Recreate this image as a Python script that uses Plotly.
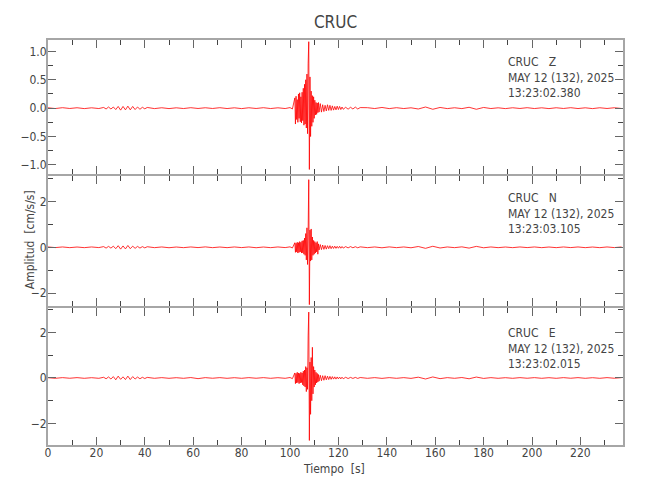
import plotly.graph_objects as go
from plotly.subplots import make_subplots

# ---- sample times [s] ----
t_s = [0, 3, 6, 9, 12, 15, 18, 21,
       23, 24, 25, 26, 27, 28, 29, 30, 31, 32, 33, 34, 35, 36, 37, 38, 39, 40, 41,
       44, 47, 50, 53, 56, 59, 62, 65, 68, 71, 74, 77, 80, 83, 86, 89, 92, 95, 98,
       100, 101,
       102, 102.25, 102.5, 102.75, 103, 103.25, 103.5, 103.75, 104, 104.25, 104.5, 104.75,
       105, 105.25, 105.5, 105.75, 106, 106.25, 106.5, 106.75, 107, 107.25, 107.5, 107.75,
       108, 108.25, 108.5, 108.75, 109, 109.25, 109.5, 109.75, 110, 110.25, 110.5, 110.75,
       111, 111.25, 111.5, 111.75, 112,
       112.5, 113, 113.5, 114, 114.5, 115, 115.5, 116, 116.5, 117, 117.5, 118, 118.5, 119,
       119.5, 120, 120.5, 121, 121.5, 122,
       123, 124, 125, 126, 127, 128, 129,
       132, 135, 138, 141, 144, 147, 150, 153, 156, 159, 162, 165, 168, 171, 174, 177, 180,
       183, 186, 189, 192, 195, 198, 201, 204, 207, 210, 213, 216, 219, 222, 225, 228, 231,
       234, 237]

# ---- Z component [cm/s/s] ----
z_vals = [0.006, -0.007, 0.008, -0.006, 0.007, -0.008, 0.006, -0.007,
          0.012, -0.015, 0.02, -0.015, 0.02, -0.025, 0.03, -0.035, 0.03, -0.03, 0.035, -0.03,
          0.03, -0.025, 0.02, -0.02, 0.015, -0.012, 0.012,
          -0.008, 0.007, -0.008, 0.006, -0.007, 0.008, -0.006, 0.007, -0.006, 0.008, -0.007,
          0.006, -0.008, 0.007, -0.006, 0.008, -0.007, 0.006, -0.007,
          0.01, -0.015,
          0.18, -0.28, 0.21, -0.2, 0.15, -0.25, 0.25, -0.18, 0.27, -0.24, 0.2, -0.26,
          0.28, -0.22, 0.35, -0.3, 0.42, -0.28, 0.5, -0.35, 0.6, -0.45, 0.78, 1.17,
          -1.08, 0.55, -0.5, 0.3, -0.32, 0.22, -0.25, 0.2, -0.18, 0.14, -0.12, 0.1,
          -0.11, 0.09, -0.08, 0.1, -0.07,
          0.08, -0.07, 0.06, -0.06, 0.05, -0.05, 0.06, -0.04, 0.05, -0.04, 0.04, -0.035,
          0.03, -0.03, 0.035, -0.025, 0.03, -0.025, 0.02, -0.02,
          0.015, -0.018, 0.015, -0.015, 0.018, -0.015, 0.01,
          0.008, -0.007, 0.012, -0.008, 0.008, -0.007, 0.006, -0.015, 0.02, -0.02, 0.012,
          -0.008, 0.007, -0.008, 0.015, -0.02, 0.012, -0.007, 0.006, -0.008, 0.007, -0.006,
          0.008, -0.007, 0.006, -0.008, 0.007, -0.006, 0.008, -0.007, 0.006, -0.008, 0.007,
          -0.006, 0.007, -0.006]

# ---- N component [cm/s/s] ----
n_vals = [0.015, -0.012, 0.015, -0.015, 0.012, -0.015, 0.015, -0.012,
          0.03, -0.035, 0.04, -0.035, 0.05, -0.06, 0.07, -0.08, 0.06, -0.07, 0.08, -0.06,
          0.05, -0.045, 0.04, -0.035, 0.03, -0.025, 0.025,
          -0.015, 0.015, -0.018, 0.012, -0.015, 0.015, -0.012, 0.018, -0.015, 0.012, -0.015,
          0.015, -0.012, 0.015, -0.018, 0.012, -0.015, 0.015, -0.012,
          0.02, -0.03,
          0.2, -0.22, 0.18, -0.2, 0.22, -0.25, 0.2, -0.22, 0.25, -0.2, 0.22, -0.25,
          0.28, -0.24, 0.3, -0.3, 0.4, -0.35, 0.6, -0.55, 0.85, -0.75, 0.7, 2.95,
          -2.5, 0.75, -0.6, 0.8, -0.55, 0.45, -0.35, 0.3, -0.3, 0.25, -0.25, 0.2,
          -0.2, 0.25, -0.3, 0.15, -0.12,
          0.12, -0.1, 0.1, -0.09, 0.08, -0.08, 0.07, -0.06, 0.07, -0.06, 0.05, -0.05,
          0.05, -0.045, 0.04, -0.04, 0.045, -0.04, 0.035, -0.035,
          0.03, -0.025, 0.03, -0.02, 0.025, -0.02, 0.02,
          -0.015, 0.015, -0.02, 0.018, -0.015, 0.015, -0.02, 0.035, -0.045, 0.045, -0.03,
          0.015, -0.015, 0.02, -0.035, 0.04, -0.02, 0.015, -0.015, 0.012, -0.015, 0.015,
          -0.012, 0.015, -0.015, 0.012, -0.015, 0.015, -0.012, 0.015, -0.015, 0.012, -0.015,
          0.015, -0.012, 0.015]

# ---- E component [cm/s/s] ----
e_vals = [0.012, -0.015, 0.015, -0.012, 0.015, -0.015, 0.012, -0.015,
          0.03, -0.035, 0.045, -0.045, 0.06, -0.08, 0.08, -0.06, 0.05, -0.07, 0.08, -0.07,
          0.06, -0.045, 0.04, -0.035, 0.03, -0.025, 0.025,
          -0.015, 0.015, -0.015, 0.012, -0.015, 0.018, -0.03, 0.015, -0.012, 0.015, -0.015,
          0.012, -0.015, 0.015, -0.012, 0.015, -0.015, 0.012, -0.015,
          0.02, -0.03,
          0.22, -0.25, 0.2, -0.22, 0.25, -0.2, 0.22, -0.25, 0.2, -0.22, 0.25, -0.2,
          0.22, -0.3, 0.3, -0.35, 0.35, -0.4, 0.5, -0.6, 0.45, -0.5, 1.85, 2.9,
          -2.75, 0.7, -1.6, 0.9, -1.0, 1.35, -0.7, 0.5, -0.4, 0.35, -0.3, 0.25,
          -0.22, 0.2, -0.18, 0.15, -0.14,
          0.12, -0.12, 0.1, -0.1, 0.1, -0.08, 0.08, -0.07, 0.07, -0.06, 0.06, -0.05,
          0.05, -0.05, 0.045, -0.04, 0.04, -0.04, 0.035, -0.035,
          0.03, -0.025, 0.025, -0.02, 0.025, -0.02, 0.02,
          -0.015, 0.015, -0.018, 0.015, -0.015, 0.015, -0.018, 0.035, -0.045, 0.045, -0.03,
          0.015, -0.015, 0.02, -0.035, 0.04, -0.02, 0.015, -0.015, 0.012, -0.015, 0.015,
          -0.012, 0.015, -0.015, 0.012, -0.015, 0.015, -0.012, 0.015, -0.015, 0.012, -0.015,
          0.015, -0.012, 0.015]

components = ["Z", "N", "E"]
start_times = ["13:23:02.380", "13:23:03.105", "13:23:02.015"]
station = "CRUC"
date_label = "MAY 12 (132), 2025"
series = [z_vals, n_vals, e_vals]

for s in series:
    assert len(s) == len(t_s), (len(s), len(t_s))

FONT = "Liberation Sans Narrow, DejaVu Sans Condensed, Arial Narrow, sans-serif"
TXT = "#444444"

fig = make_subplots(rows=3, cols=1, shared_xaxes=True, vertical_spacing=0)

for i, vals in enumerate(series):
    fig.add_trace(go.Scatter(x=t_s, y=vals, mode="lines",
                             line=dict(color="#ff0000", width=0.8),
                             showlegend=False, hoverinfo="skip"), row=i + 1, col=1)

# axis lines sit outside each panel, so a gap of one line width makes shared borders coincide
domains = [[0.6691, 1.0], [0.3432, 0.6642], [0.0, 0.3383]]
yranges = [[-1.16, 1.2], [-2.56, 3.11], [-2.95, 3.08]]
ydticks = [0.5, 2, 2]
yminor = [0.25, 1, 1]
yfmt = [".1f", "d", "d"]

axis_common = dict(showline=True, linecolor="#a6a6a6", linewidth=2, mirror="ticks",
                   ticks="inside", ticklen=8, tickwidth=1, tickcolor="#666666",
                   showgrid=False, zeroline=False, automargin=False,
                   tickfont=dict(family=FONT, size=12, color=TXT))

for i in range(3):
    n = "" if i == 0 else str(i + 1)
    fig.layout["xaxis" + n].update(
        range=[0, 237.6], dtick=20, tick0=0, ticklabelstandoff=-4,
        minor=dict(dtick=10, ticks="inside", ticklen=5, tickcolor="#444444", tickwidth=1),
        showticklabels=(i == 2), **axis_common)
    fig.layout["yaxis" + n].update(
        domain=domains[i], range=yranges[i], dtick=ydticks[i], tick0=0,
        tickformat=yfmt[i], ticklabelstandoff=-3,
        minor=dict(dtick=yminor[i], ticks="inside", ticklen=5, tickcolor="#444444", tickwidth=1),
        **axis_common)

for i in range(3):
    n = "" if i == 0 else str(i + 1)
    ytop = [0.905, 0.9, 0.885][i]
    fig.add_annotation(
        xref="x" + n + " domain", yref="y" + n + " domain", x=0.7965, y=ytop,
        xanchor="left", yanchor="top", align="left", showarrow=False,
        text=f"{station}   {components[i]}<br>{date_label}<br>{start_times[i]}",
        font=dict(family=FONT, size=12, color=TXT))

fig.add_annotation(xref="paper", yref="paper", x=-0.031, y=0.506, textangle=-90,
                   text="Amplitud  [cm/s/s]", showarrow=False, xanchor="center",
                   yanchor="middle", font=dict(family=FONT, size=12, color=TXT))
fig.add_annotation(xref="paper", yref="paper", x=0.497, y=-0.059, text="Tiempo  [s]",
                   showarrow=False, xanchor="center", yanchor="middle",
                   font=dict(family=FONT, size=12, color=TXT))

# page body has an 8px margin: offsets below place the plot area at x 48-623, y 40-445
fig.update_layout(
    width=650, height=500,
    margin=dict(l=40, r=35, t=32, b=63),
    paper_bgcolor="white", plot_bgcolor="white",
    title=dict(text=station, x=0.5, xref="paper", y=0.972, yanchor="middle",
               font=dict(family=FONT, size=17, color=TXT)),
)

fig.write_html("out.html")
